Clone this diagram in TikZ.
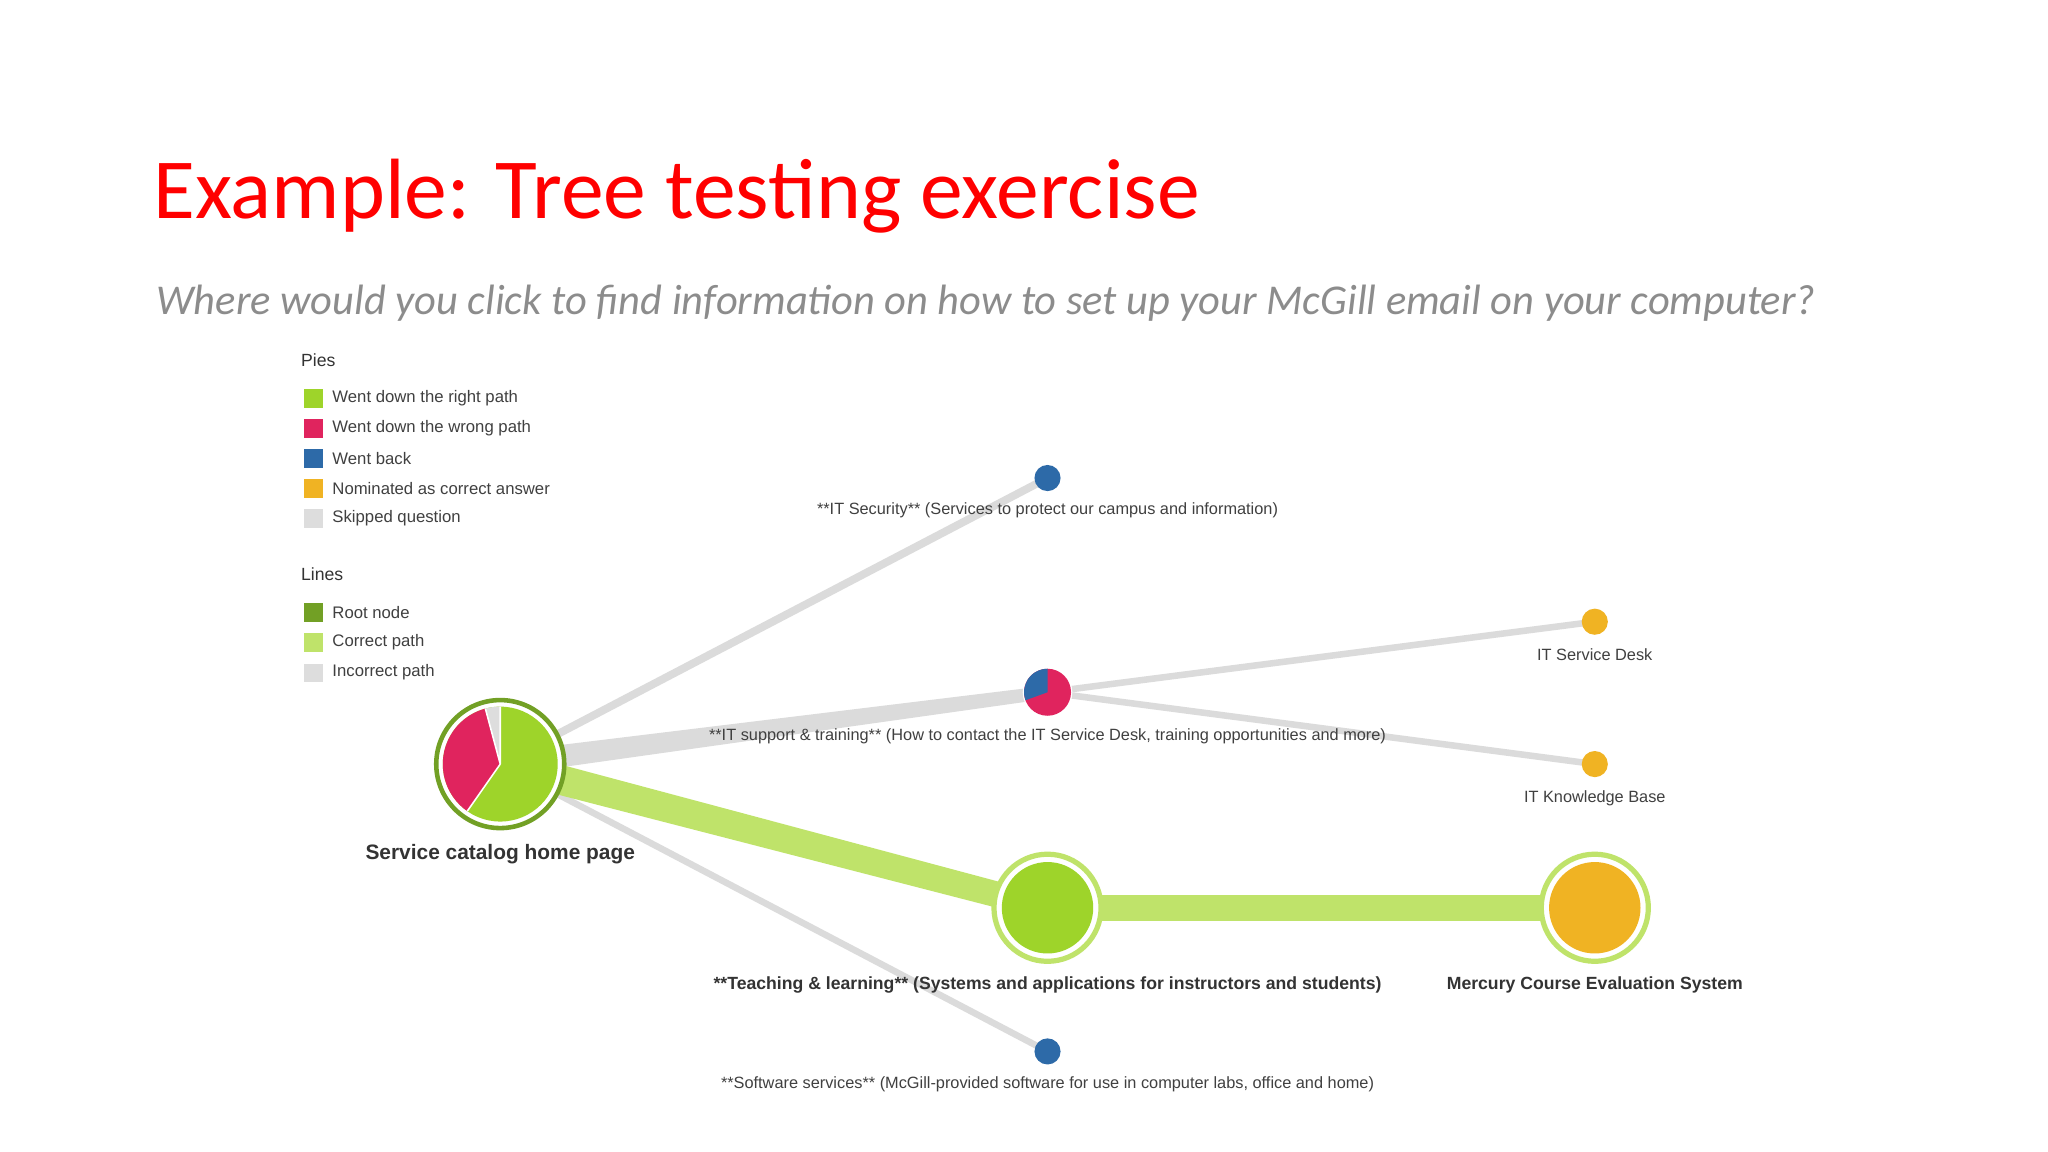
\documentclass[tikz,border=0pt]{standalone}
\usepackage{fontspec}
\setmainfont{Liberation Sans}
\newfontfamily\titlefont{Carlito}
\begin{document}
\begin{tikzpicture}[x=1pt,y=-1pt,
  leg/.style={anchor=west,font=\fontsize{12.8}{14}\selectfont,text=black!75},
  legsq/.style={minimum size=14pt,inner sep=0pt},
  lbl/.style={font=\fontsize{12.5}{14}\selectfont,text=black!75},
  blbl/.style={font=\bfseries\fontsize{13.5}{16}\selectfont,text=black!80},
  grayline/.style={draw=black!14,line cap=round},
  greenline/.style={draw=lgreen},
  dot/.style={circle,inner sep=0pt,minimum size=20pt}]
\definecolor{pgreen}{HTML}{9ED42A}
\definecolor{pred}{HTML}{E0245E}
\definecolor{pblue}{HTML}{2D6AA8}
\definecolor{porange}{HTML}{F0B323}
\definecolor{pgray}{HTML}{DDDDDD}
\definecolor{dgreen}{HTML}{72A025}
\definecolor{lgreen}{HTML}{BFE36A}
\useasboundingbox (0,0) rectangle (1568,882);
\fill[white] (0,0) rectangle (1568,882);
\node[anchor=west,text=red,font=\titlefont\fontsize{65.5}{76}\selectfont] (title) at (114,150) {Example: Tree testing exercise};
\node[anchor=west,text=black!45,font=\titlefont\itshape\fontsize{32.5}{38}\selectfont] (sub) at (116,232) {Where would you click to find information on how to set up your McGill email on your computer?};
% legend
\node[leg,font=\fontsize{13.5}{16}\selectfont,text=black!80] (pies) at (227,276) {Pies};
\foreach \y/\c/\t [count=\i] in {305/pgreen/Went down the right path,328/pred/Went down the wrong path,351/pblue/Went back,374/porange/Nominated as correct answer,397/pgray/Skipped question}{
  \node[legsq,fill=\c] (ps\i) at (240,\y) {};
  \node[leg] (pt\i) at (251,\y) {\t};}
\node[leg,font=\fontsize{13.5}{16}\selectfont,text=black!80] (lines) at (227,440) {Lines};
\foreach \y/\c/\t [count=\i] in {469/dgreen/Root node,492/lgreen/Correct path,515/pgray/Incorrect path}{
  \node[legsq,fill=\c] (ls\i) at (240,\y) {};
  \node[leg] (lt\i) at (251,\y) {\t};}
% coordinates
\coordinate (r) at (383,585);
\coordinate (sec) at (802,366);
\coordinate (sup) at (802,530);
\coordinate (desk) at (1221,476);
\coordinate (kb) at (1221,585);
\coordinate (teach) at (802,695);
\coordinate (merc) at (1221,695);
\coordinate (soft) at (802,805);
% connectors
\draw[grayline,line width=6] (r) -- (sec);
\fill[black!14] ([yshift=9]r) -- ([yshift=5]sup) -- ([yshift=-5]sup) -- ([yshift=-9]r) -- cycle;
\draw[grayline,line width=5] (sup) -- (desk);
\draw[grayline,line width=5] (sup) -- (kb);
\draw[grayline,line width=5] (r) -- (soft);
\fill[lgreen] ([yshift=12]r) -- ([yshift=10]teach) -- ([yshift=-10]teach) -- ([yshift=-12]r) -- cycle;
\draw[greenline,line width=20] (teach) -- (merc);
% root pie
\node[circle,draw=dgreen,line width=3.5,fill=white,minimum size=98pt,inner sep=0pt] (root) at (r) {};
\fill[pgreen] (r) circle (44);
\fill[pred] (r) -- ++(-105:44) arc (-105:-235:44) -- cycle;
\fill[pgray] (r) -- ++(-90:44) arc (-90:-105:44) -- cycle;
\draw[white,line width=1.2] (r) -- ++(-90:44) (r) -- ++(-105:44) (r) -- ++(-235:44);
\node[blbl,font=\bfseries\fontsize{16}{18}\selectfont] (rootl) at (383,654) {Service catalog home page};
% small nodes
\node[dot,fill=pblue] (secn) at (sec) {};
\node[lbl] (secl) at (802,391) {**IT Security** (Services to protect our campus and information)};
\node[circle,minimum size=38pt,inner sep=0pt,fill=white] (supn) at (sup) {};
\fill[pred] (sup) circle (18);
\fill[pblue] (sup) -- ++(-90:18) arc (-90:-200:18) -- cycle;
\node[lbl] (supl) at (802,564) {**IT support \& training** (How to contact the IT Service Desk, training opportunities and more)};
\node[dot,fill=porange] (deskn) at (desk) {};
\node[lbl] (deskl) at (1221,501) {IT Service Desk};
\node[dot,fill=porange] (kbn) at (kb) {};
\node[lbl] (kbl) at (1221,611) {IT Knowledge Base};
\node[circle,draw=lgreen,line width=4,fill=white,minimum size=82pt,inner sep=0pt] (teachn) at (teach) {};
\fill[pgreen] (teach) circle (35);
\node[blbl] (teachl) at (802,754) {**Teaching \& learning** (Systems and applications for instructors and students)};
\node[circle,draw=lgreen,line width=4,fill=white,minimum size=82pt,inner sep=0pt] (mercn) at (merc) {};
\fill[porange] (merc) circle (35);
\node[blbl] (mercl) at (1221,754) {Mercury Course Evaluation System};
\node[dot,fill=pblue] (softn) at (soft) {};
\node[lbl] (softl) at (802,830) {**Software services** (McGill-provided software for use in computer labs, office and home)};
\end{tikzpicture}
\end{document}
